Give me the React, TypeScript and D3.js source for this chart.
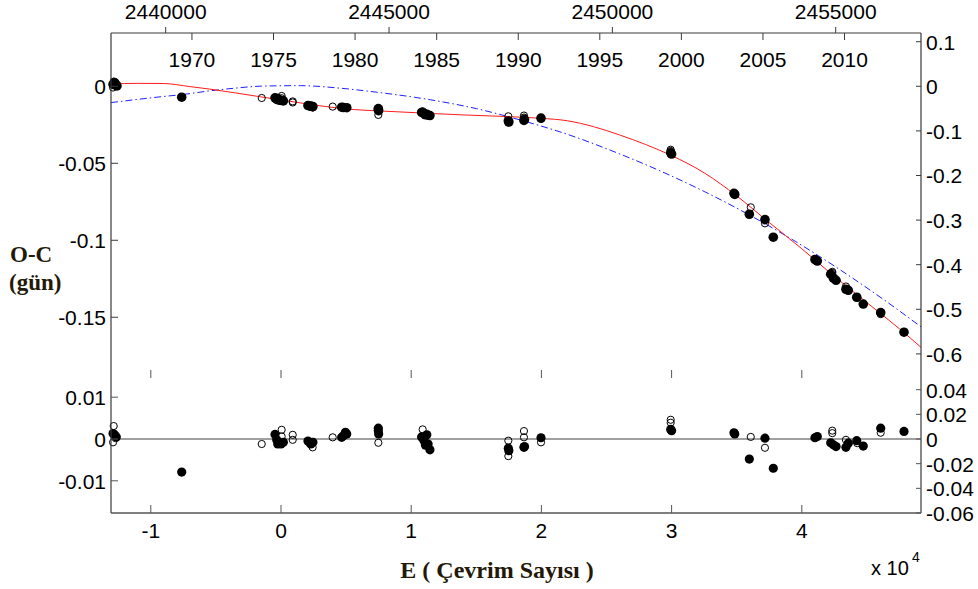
import React from 'react';
import * as d3 from 'd3';

// ---- axis tick values ----
const eTicks = [-10000, 0, 10000, 20000, 30000, 40000];
const jdTicks = [2440000, 2445000, 2450000, 2455000];
const yearTicks = [1970, 1975, 1980, 1985, 1990, 1995, 2000, 2005, 2010];
const leftTopTicks = [0, -0.05, -0.1, -0.15];
const rightTopTicks = [0.1, 0, -0.1, -0.2, -0.3, -0.4, -0.5, -0.6];
const leftBottomTicks = [0.01, 0, -0.01];
const rightBottomTicks = [0.04, 0.02, 0, -0.02, -0.04, -0.06];

// ---- ephemeris (for top JD / year axes) ----
const T0 = 2442581.3;
const P = 0.29149;

// ---- fitted curves: [E, O-C] ----
const redFit: [number, number][] = [
  [-13057, 0.0015], [-11000, 0.0019], [-9000, 0.0018], [-7000, -0.0002], [-5500, -0.0018],
  [-3500, -0.0043], [-1600, -0.0068], [1500, -0.0108], [4500, -0.0143], [9000, -0.0166],
  [14000, -0.0186], [18000, -0.0199], [20000, -0.0208], [22000, -0.0224], [24000, -0.0262],
  [26000, -0.0316], [28000, -0.0378], [30000, -0.0450], [32500, -0.0562], [35000, -0.0712],
  [37500, -0.0885], [40000, -0.1055], [42500, -0.1235], [45000, -0.1405], [47500, -0.1575],
  [49155, -0.1695],
];
const blueFit: [number, number][] = [
  [-13057, -0.0106], [-9000, -0.0066], [-7600, -0.0054], [-5500, -0.0030], [-3500, -0.0012],
  [-1500, 0.0001], [1500, 0.0004], [4500, -0.0012], [7500, -0.0040], [11500, -0.0088],
  [15000, -0.0145], [18500, -0.0222], [22000, -0.0312], [25500, -0.0422], [29000, -0.0545],
  [32500, -0.0683], [36000, -0.0837], [39500, -0.1007], [43000, -0.1195], [46500, -0.1398],
  [49155, -0.1562],
];

// ---- O-C observations: [E, O-C] ----
const ocFilled: [number, number][] = [
  [-12900, 0.0012], [-12750, 0.0018], [-12650, 0.0008], [-12800, 0.0025], [-12600, 0.0002],
  [-7627, -0.0071],
  [-460, -0.0075], [-330, -0.0085], [-150, -0.009], [0, -0.0092], [180, -0.0095], [-250, -0.008],
  [2070, -0.0125], [2250, -0.0128], [2450, -0.0132], [2300, -0.013],
  [4660, -0.0136], [4800, -0.0138], [5050, -0.0139],
  [7475, -0.0145], [7475, -0.0152], [7500, -0.0158],
  [10800, -0.017], [10950, -0.0175], [11050, -0.018], [11200, -0.0182], [11300, -0.0188], [11440, -0.019], [11100, -0.0185],
  [17460, -0.0225], [17500, -0.0232],
  [18660, -0.0222], [18700, -0.0215],
  [19970, -0.0207],
  [29930, -0.0432], [30000, -0.044],
  [34790, -0.0695], [34850, -0.0702],
  [35970, -0.0831],
  [37170, -0.0866],
  [37810, -0.098],
  [41010, -0.1125], [41190, -0.1135],
  [42220, -0.122], [42420, -0.1245], [42630, -0.126],
  [43390, -0.1318], [43570, -0.1325],
  [44220, -0.137],
  [44720, -0.1414],
  [46060, -0.147],
  [47850, -0.1597],
];
const ocOpen: [number, number][] = [
  [-12850, 0.003], [-12900, -0.0008], [-12700, 0.0022],
  [-1480, -0.0076],
  [50, -0.0063], [50, -0.0078],
  [900, -0.0098], [900, -0.0105],
  [2430, -0.0138],
  [3970, -0.0132],
  [7475, -0.0186],
  [10880, -0.0162],
  [17460, -0.0195], [17460, -0.0235],
  [18660, -0.019], [18660, -0.0203],
  [19970, -0.0212],
  [29930, -0.0412], [29930, -0.042],
  [36080, -0.0786],
  [37170, -0.089],
  [42340, -0.1205], [42340, -0.1212],
  [43390, -0.13],
  [44260, -0.1373],
  [46060, -0.148],
];

// ---- residuals: [E, residual] ----
const resFilled: [number, number][] = [
  [-12900, 0.0013], [-12750, 0.0008], [-12650, 0.0005], [-12800, 0.001],
  [-7627, -0.0079],
  [-460, 0.0011], [-330, -0.0002], [-150, -0.001], [0, -0.0012], [180, -0.0008], [-250, -0.0012],
  [2070, -0.0005], [2250, -0.001], [2450, -0.0008], [2300, -0.0012],
  [4660, 0.0004], [4800, 0.0008], [5050, 0.0012], [4950, 0.0016],
  [7475, 0.0026], [7475, 0.002], [7500, 0.0012],
  [10800, 0.0005], [10950, -0.0002], [11050, -0.0008], [11200, 0.001], [11300, -0.0012], [11440, -0.0026], [11100, -0.0015],
  [17460, -0.0022], [17500, -0.0028],
  [18660, -0.002], [18700, -0.0018],
  [19970, 0.0003],
  [29930, 0.0023], [30000, 0.002],
  [34790, 0.0015], [34850, 0.0012],
  [35970, -0.0048],
  [37170, 0.0002],
  [37810, -0.007],
  [41010, 0.0003], [41190, 0.0006],
  [42220, -0.0009], [42420, -0.0014], [42630, -0.0018],
  [43390, -0.002], [43570, -0.001],
  [44220, -0.0004],
  [44720, -0.0017],
  [46060, 0.0026],
  [47850, 0.0018],
];
const resOpen: [number, number][] = [
  [-12850, 0.0031], [-12900, -0.0008], [-12700, 0.0002],
  [-1480, -0.0012],
  [50, 0.0022], [50, 0.0006],
  [900, 0.001], [900, -0.0002],
  [2430, -0.002],
  [3970, 0.0004],
  [7475, -0.0009],
  [10880, 0.0023],
  [17460, -0.0004], [17460, -0.0041],
  [18660, 0.0019], [18660, 0.0004],
  [19970, -0.0008],
  [29930, 0.0046], [29930, 0.0039],
  [36080, 0.0005],
  [37170, -0.0021],
  [42340, 0.002], [42340, 0.0014],
  [43390, -0.0002],
  [44260, -0.001],
  [46060, 0.0015],
];

const W = 978;
const H = 589;
const X0 = 111;
const X1 = 921;
const TOP = 33;
const MID = 365;
const BOT = 513;
const FONT = "'Liberation Sans', Arial, sans-serif";
const SERIF = "'Liberation Serif', 'Times New Roman', serif";
const TITLE_COLOR = '#241806';

export default function App() {
  const eDomain: [number, number] = [-13057, 49155];
  const x = d3.scaleLinear().domain(eDomain).range([X0, X1]);
  const xJD = d3.scaleLinear().domain([T0 + P * eDomain[0], T0 + P * eDomain[1]]).range([X0, X1]);
  const yearToJD = (yr: number) => Date.UTC(yr, 0, 1) / 86400000 + 2440587.5;

  const yL = d3.scaleLinear().domain([0.0346, -0.181]).range([TOP, MID]);
  const yR = d3.scaleLinear().domain([0.1195, -0.6249]).range([TOP, MID]);
  const yBL = d3.scaleLinear().domain([0.0177, -0.0177]).range([MID, BOT]);
  const yBR = d3.scaleLinear().domain([0.06, -0.06]).range([MID, BOT]);

  const lineTop = d3.line<[number, number]>().x(d => x(d[0])).y(d => yL(d[1])).curve(d3.curveMonotoneX);

  const axisColor = '#3a3a3a';
  const fmt = (v: number) => String(+v.toFixed(4));

  return (
    <svg width={W} height={H} style={{ position: 'absolute', left: 0, top: 0, background: '#fff' }}
      fontFamily={FONT}>
      <rect x={0} y={0} width={W} height={H} fill="#fff" />
      <defs>
        <clipPath id="clipTop"><rect x={X0} y={TOP} width={X1 - X0} height={MID - TOP} /></clipPath>
      </defs>

      {/* curves */}
      <g clipPath="url(#clipTop)">
        <path d={lineTop(blueFit) || ''} fill="none" stroke="#2020ff" strokeWidth={1} strokeDasharray="7,3,1.5,3" />
        <path d={lineTop(redFit) || ''} fill="none" stroke="#ff1a1a" strokeWidth={1} />
      </g>

      {/* zero line bottom panel */}
      <line x1={X0} x2={X1} y1={yBL(0)} y2={yBL(0)} stroke="#808080" strokeWidth={1.6} />

      {/* top panel points */}
      {ocOpen.map((d, i) => (
        <circle key={'to' + i} cx={x(d[0])} cy={yL(d[1])} r={3.6} fill="none" stroke="#000" strokeWidth={1} />
      ))}
      {ocFilled.map((d, i) => (
        <circle key={'tf' + i} cx={x(d[0])} cy={yL(d[1])} r={4.8} fill="#000" />
      ))}

      {/* bottom panel points */}
      {resOpen.map((d, i) => (
        <circle key={'bo' + i} cx={x(d[0])} cy={yBL(d[1])} r={3.6} fill="none" stroke="#000" strokeWidth={1} />
      ))}
      {resFilled.map((d, i) => (
        <circle key={'bf' + i} cx={x(d[0])} cy={yBL(d[1])} r={4.6} fill="#000" />
      ))}

      {/* frame */}
      <line x1={X0} x2={X1} y1={TOP} y2={TOP} stroke={axisColor} strokeWidth={1.2} />
      <line x1={X0} x2={X0} y1={TOP} y2={BOT} stroke={axisColor} strokeWidth={1.2} />
      <line x1={X1} x2={X1} y1={TOP} y2={BOT} stroke={axisColor} strokeWidth={1.2} />
      <line x1={X0} x2={X1} y1={BOT} y2={BOT} stroke="#555" strokeWidth={1.4} />

      {/* JD ticks (outside top) */}
      {jdTicks.map(t => (
        <g key={'jd' + t}>
          <line x1={xJD(t)} x2={xJD(t)} y1={TOP} y2={TOP - 6} stroke={axisColor} />
          <text x={xJD(t)} y={19} fontSize={21} textAnchor="middle" fill="#000">{t}</text>
        </g>
      ))}
      {/* year ticks (inside top) */}
      {yearTicks.map(t => (
        <g key={'yr' + t}>
          <line x1={xJD(yearToJD(t))} x2={xJD(yearToJD(t))} y1={TOP} y2={TOP + 7} stroke={axisColor} />
          <text x={xJD(yearToJD(t))} y={67} fontSize={21} textAnchor="middle" fill="#000">{t}</text>
        </g>
      ))}

      {/* left top ticks */}
      {leftTopTicks.map(t => (
        <g key={'lt' + t}>
          <line x1={X0} x2={X0 + 7} y1={yL(t)} y2={yL(t)} stroke={axisColor} />
          <text x={106} y={yL(t) + 8} fontSize={21} textAnchor="end" fill="#000">{fmt(t)}</text>
        </g>
      ))}
      {/* right top ticks */}
      {rightTopTicks.map(t => (
        <g key={'rt' + t}>
          <line x1={X1 - 5} x2={X1} y1={yR(t)} y2={yR(t)} stroke={axisColor} />
          <text x={926} y={yR(t) + 8} fontSize={21} textAnchor="start" fill="#000">{fmt(t)}</text>
        </g>
      ))}

      {/* middle ticks */}
      {eTicks.map(t => (
        <line key={'mt' + t} x1={x(t)} x2={x(t)} y1={370} y2={378} stroke="#555" />
      ))}

      {/* bottom ticks + labels */}
      {eTicks.map(t => (
        <g key={'bt' + t}>
          <line x1={x(t)} x2={x(t)} y1={BOT} y2={BOT - 8} stroke="#555" />
          <text x={x(t)} y={538} fontSize={21} textAnchor="middle" fill="#000">{t / 10000}</text>
        </g>
      ))}

      {/* bottom-left ticks */}
      {leftBottomTicks.map(t => (
        <g key={'lb' + t}>
          <line x1={X0} x2={X0 + 7} y1={yBL(t)} y2={yBL(t)} stroke="#555" />
          <text x={106} y={yBL(t) + 8} fontSize={21} textAnchor="end" fill="#000">{fmt(t)}</text>
        </g>
      ))}
      {/* bottom-right ticks */}
      {rightBottomTicks.map(t => (
        <g key={'rb' + t}>
          <line x1={X1 - 5} x2={X1} y1={yBR(t)} y2={yBR(t)} stroke="#555" />
          <text x={926} y={yBR(t) + 8} fontSize={21} textAnchor="start" fill="#000">{fmt(t)}</text>
        </g>
      ))}

      {/* x10^4 */}
      <text x={871} y={575} fontSize={20} fill="#000">x 10</text>
      <text x={912} y={562} fontSize={14} fill="#000">4</text>

      {/* axis titles */}
      <text x={497} y={578} fontSize={24} fontWeight="bold" fontFamily={SERIF} textAnchor="middle" fill={TITLE_COLOR}>
        E ( Çevrim Sayısı )
      </text>
      <text x={10} y={262} fontSize={23} fontWeight="bold" fontFamily={SERIF} fill={TITLE_COLOR}>O-C</text>
      <text x={9} y={290} fontSize={23} fontWeight="bold" fontFamily={SERIF} fill={TITLE_COLOR}>(gün)</text>
    </svg>
  );
}
